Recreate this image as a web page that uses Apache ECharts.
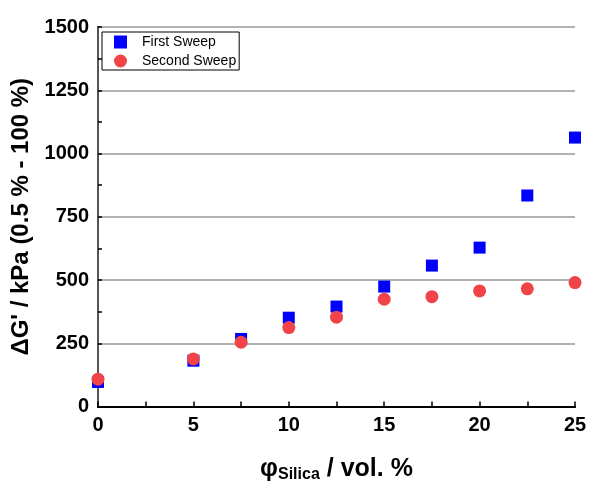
<!DOCTYPE html>
<html>
<head>
<meta charset="utf-8">
<script src="https://cdn.jsdelivr.net/npm/echarts@6/dist/echarts.min.js"></script>
<style>
  html, body { margin: 0; padding: 0; background: #fff; }
  #chart { width: 589px; height: 484px; }
</style>
</head>
<body>
<div id="chart"></div>
<script>
// Silica volume fraction (vol. %)
const silica = [0, 5, 7.5, 10, 12.5, 15, 17.5, 20, 22.5, 25];
// Drop of storage modulus between 0.5 % and 100 % strain (kPa)
const firstSweep = [97, 181, 267, 351, 395, 474, 557, 628, 834, 1063];
const secondSweep = [108, 188, 254, 312, 353, 424, 434, 457, 465, 490];
const yTicks = [0, 250, 500, 750, 1000, 1250, 1500];
const xTicks = [0, 5, 10, 15, 20, 25];

const FONT = 'Arial, "Liberation Sans", sans-serif';
const chart = echarts.init(document.getElementById('chart'));

const pairs = (xs, ys) => xs.map((x, i) => [x, ys[i]]);

chart.setOption({
  animation: false,
  backgroundColor: '#fff',
  grid: { left: 98, right: 14, top: 27, bottom: 77.5, containLabel: false, outerBoundsMode: 'none' },
  legend: {
    left: 102, top: 32,
    orient: 'vertical',
    itemWidth: 13, itemHeight: 13, itemGap: 5,
    padding: [3, 3, 2, 12],
    borderColor: '#000', borderWidth: 1,
    textStyle: { fontFamily: FONT, fontSize: 14, lineHeight: 13, color: '#000', padding: [0, 0, 0, 10] },
    data: [
      { name: 'First Sweep', icon: 'rect' },
      { name: 'Second Sweep', icon: 'circle' }
    ]
  },
  xAxis: [{
    type: 'value', min: 0, max: 25, interval: 2.5,
    axisLine: { lineStyle: { color: '#000', width: 2 } },
    axisTick: { inside: true, length: 5, lineStyle: { color: '#000', width: 1.5 } },
    splitLine: { show: false },
    axisLabel: {
      fontFamily: FONT, fontSize: 20, fontWeight: 'bold', color: '#000', margin: 9,
      formatter: v => (xTicks.includes(v) ? String(v) : '')
    },
    name: '{phi|φ}{sub|Silica}{main| / vol. %}',
    nameLocation: 'middle', nameGap: 50,
    nameTextStyle: {
      rich: {
        phi: { fontFamily: FONT, fontSize: 25, fontWeight: 'bold', color: '#000' },
        sub: { fontFamily: FONT, fontSize: 16, fontWeight: 'bold', color: '#000', verticalAlign: 'bottom', padding: [10, 0, 0, 0] },
        main: { fontFamily: FONT, fontSize: 25, fontWeight: 'bold', color: '#000' }
      }
    }
  }, {
    type: 'value', min: 0, max: 25, position: 'top',
    axisLine: { show: true, lineStyle: { color: '#000', width: 2 } },
    axisTick: { show: false }, axisLabel: { show: false }, splitLine: { show: false }
  }],
  yAxis: [{
    type: 'value', min: 0, max: 1500, interval: 125,
    axisLine: { show: true, lineStyle: { color: '#000', width: 2 } },
    axisTick: { show: true, inside: true, length: 4, lineStyle: { color: '#000', width: 1.5 } },
    splitLine: { show: false },
    axisLabel: {
      fontFamily: FONT, fontSize: 20, fontWeight: 'bold', color: '#000', margin: 9,
      formatter: v => (yTicks.includes(v) ? String(v) : '')
    },
    name: "ΔG' / kPa (0.5 % - 100 %)",
    nameLocation: 'middle', nameGap: 54, nameRotate: 90,
    nameTextStyle: { fontFamily: FONT, fontSize: 24, fontWeight: 'bold', color: '#000' }
  }, {
    type: 'value', min: 0, max: 1500, interval: 250, position: 'right',
    axisLine: { show: true, lineStyle: { color: '#555', width: 2 } },
    axisTick: { show: false }, axisLabel: { show: false },
    splitLine: { show: true, lineStyle: { color: '#999', width: 1.5 } }
  }],
  series: [{
    name: 'First Sweep', type: 'scatter',
    symbol: 'rect', symbolSize: 12,
    itemStyle: { color: '#0000ff', opacity: 1 },
    data: pairs(silica, firstSweep), z: 3
  }, {
    name: 'Second Sweep', type: 'scatter',
    symbol: 'circle', symbolSize: 13,
    itemStyle: { color: '#f04448', opacity: 1 },
    data: pairs(silica, secondSweep), z: 4
  }]
});
</script>
</body>
</html>
